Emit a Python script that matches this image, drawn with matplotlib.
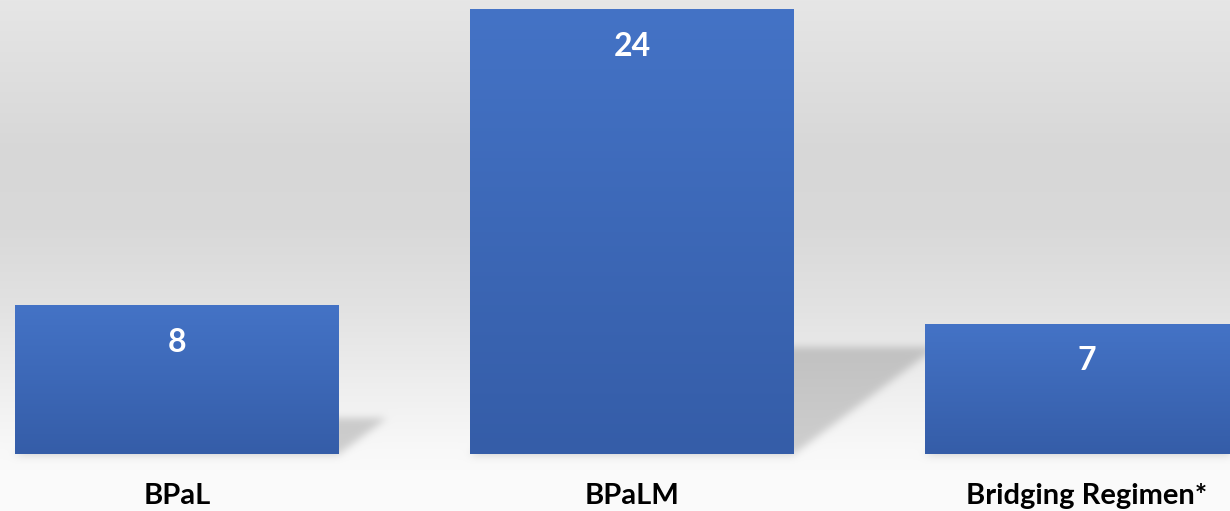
import numpy as np
import matplotlib
matplotlib.use("Agg")
import matplotlib.pyplot as plt

# regimen counts
categories = ["BPaL", "BPaLM", "Bridging Regimen*"]
counts = [8, 24, 7]

W, H = 1230, 511
plt.rcParams['font.family'] = ['Lato', 'DejaVu Sans']

fig = plt.figure(figsize=(W / 100, H / 100), dpi=100)
bg = fig.add_axes([0, 0, 1, 1])
bg.set_xlim(0, W)
bg.set_ylim(0, H)
bg.axis('off')

ax = fig.add_axes([0, 57 / H, 1, 454 / H])
ax.patch.set_alpha(0)
x = np.arange(len(categories))
bars = ax.bar(x, counts, width=0.712, color='none', zorder=3)
ax.set_xlim(-0.389, 2.314)
ax.set_ylim(0, 24.54)
ax.set_yticks([])
for s in ax.spines.values():
    s.set_visible(False)
ax.set_xticks(x, categories)
ax.tick_params(axis='x', length=0, pad=21)
for lab in ax.get_xticklabels():
    lab.set_fontsize(21)
    lab.set_fontweight('bold')
    lab.set_color('black')

# gradient fill for each bar
top_c = np.array([68, 115, 198]) / 255
bot_c = np.array([53, 93, 168]) / 255
grad = np.linspace(0, 1, 256)[:, None, None]
bar_img = bot_c * (1 - grad) + top_c * grad
for b in bars:
    x0, y0 = b.get_x(), b.get_y()
    ax.imshow(bar_img, extent=(x0, x0 + b.get_width(), y0, y0 + b.get_height()),
              origin='lower', aspect='auto', zorder=2, interpolation='bilinear')
ax.set_xlim(-0.389, 2.314)
ax.set_ylim(0, 24.54)

# background: vertical gray gradient (fractions measured from the top)
stops_y = [0, 0.3, 0.45, 0.6, 0.7, 0.8, 0.88, 0.92, 1.0]
stops_v = [230, 215, 217, 226, 234, 242, 248, 250, 251]
from_top = 1 - np.arange(H) / (H - 1)   # row 0 is the bottom of the figure
rows = np.interp(from_top, stops_y, stops_v) / 255
shade = np.zeros((H, W))
YY, XX = np.mgrid[0:H, 0:W] + 0.5

# floor shadows cast to the upper right of each bar
for b in bars:
    (px0, py0), (px1, py1) = ax.transData.transform(
        [(b.get_x(), b.get_y()), (b.get_x() + b.get_width(), b.get_y() + b.get_height())])
    hpx = py1 - py0
    sh = 0.24 * hpx
    dx = 0.32 * hpx
    t = (YY - py0) / sh
    inside = (t >= 0) & (t <= 1) & (XX >= px0 + dx * t) & (XX <= px1 + dx * t)
    shade = np.maximum(shade, inside * 0.17)
    under = (YY >= py0 - 3) & (YY < py0) & (XX >= px0) & (XX <= px1)
    shade = np.maximum(shade, under * 0.05)


def blur(a, r):
    k = np.exp(-0.5 * (np.arange(-3 * r, 3 * r + 1) / r) ** 2)
    k /= k.sum()
    a = np.apply_along_axis(lambda v: np.convolve(v, k, mode='same'), 1, a)
    a = np.apply_along_axis(lambda v: np.convolve(v, k, mode='same'), 0, a)
    return a


shade = blur(shade, 4)
img = (rows[:, None] * (1 - shade))[:, :, None] * np.ones(3)
bg.imshow(img, extent=(0, W, 0, H), origin='lower', aspect='auto', interpolation='bilinear')
bg.set_xlim(0, W)
bg.set_ylim(0, H)

# value labels inside the bars
for b, v in zip(bars, counts):
    ax.annotate(str(v), xy=(b.get_x() + b.get_width() / 2, v), xytext=(0, -26),
                textcoords='offset points', ha='center', va='center',
                color='white', fontsize=23, fontweight='bold', zorder=5)

fig.savefig("out.png", dpi=100)
